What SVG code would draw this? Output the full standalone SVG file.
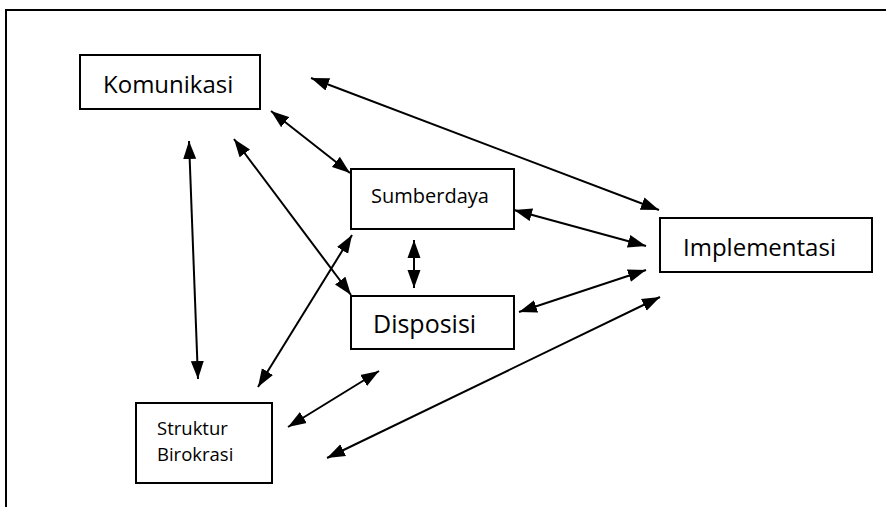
<svg xmlns="http://www.w3.org/2000/svg" width="886" height="507" viewBox="0 0 886 507">
<style>
.box{fill:#fff;stroke:#000;stroke-width:2}
.lbl{font-family:"Open Sans","Noto Sans",sans-serif;fill:#000}
.con{stroke:#000;stroke-width:2;fill:none;marker-start:url(#ah);marker-end:url(#ah)}
</style>
<defs>
<marker id="ah" markerUnits="userSpaceOnUse" markerWidth="19" markerHeight="14" refX="18" refY="7" orient="auto-start-reverse" viewBox="0 0 19 14">
<path d="M0,0.5 L18,7 L0,13.5 z" fill="#000"/>
</marker>
</defs>
<rect width="886" height="507" fill="#fff"/>
<path d="M6,507 V10 H886" fill="none" stroke="#000" stroke-width="2"/>
<g id="connectors">
<line class="con" x1="311" y1="78" x2="659" y2="210"/>
<line class="con" x1="271" y1="111" x2="350" y2="173"/>
<line class="con" x1="189" y1="141" x2="198" y2="379"/>
<line class="con" x1="234" y1="139" x2="351" y2="295"/>
<line class="con" x1="414" y1="240" x2="414" y2="288"/>
<line class="con" x1="352" y1="235" x2="258" y2="387"/>
<line class="con" x1="514" y1="210" x2="646" y2="246"/>
<line class="con" x1="519" y1="312" x2="646" y2="270"/>
<line class="con" x1="288" y1="427" x2="379" y2="371"/>
<line class="con" x1="327" y1="458" x2="660" y2="297"/>
</g>
<g id="komunikasi">
<rect class="box" x="80" y="55" width="180" height="54"/>
<text class="lbl" x="103" y="93" font-size="24">Komunikasi</text>
</g>
<g id="sumberdaya">
<rect class="box" x="351" y="169" width="163" height="60"/>
<text class="lbl" x="371" y="203" font-size="20">Sumberdaya</text>
</g>
<g id="disposisi">
<rect class="box" x="351" y="296" width="163" height="53"/>
<text class="lbl" x="373" y="333" font-size="25">Disposisi</text>
</g>
<g id="implementasi">
<rect class="box" x="660" y="218" width="212" height="54"/>
<text class="lbl" x="683" y="256" font-size="24">Implementasi</text>
</g>
<g id="struktur-birokrasi">
<rect class="box" x="136" y="403" width="136" height="80"/>
<text class="lbl" x="157" y="435" font-size="18.5">Struktur</text>
<text class="lbl" x="157" y="461" font-size="18.5">Birokrasi</text>
</g>
</svg>
